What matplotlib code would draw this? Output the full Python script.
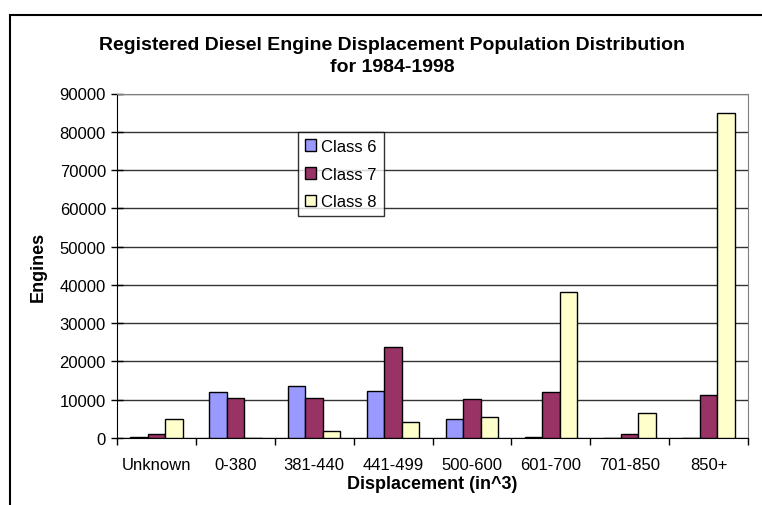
import numpy as np
import matplotlib
matplotlib.use("Agg")
import matplotlib.pyplot as plt
from matplotlib.patches import Rectangle

plt.rcParams['font.family'] = ['Liberation Sans', 'DejaVu Sans']

categories = ['Unknown', '0-380', '381-440', '441-499', '500-600', '601-700', '701-850', '850+']
class6 = [300, 12000, 13700, 12300, 5000, 300, 0, 0]
class7 = [1000, 10500, 10500, 23800, 10300, 12000, 1000, 11300]
class8 = [5000, 0, 1900, 4200, 5500, 38100, 6500, 85000]

series = [('Class 6', class6, '#9999FF'),
          ('Class 7', class7, '#993366'),
          ('Class 8', class8, '#FFFFCC')]

fig = plt.figure(figsize=(7.62, 5.06), dpi=100)
ax = fig.add_axes([117 / 762, 1 - 439 / 506, (748 - 117) / 762, (439 - 94.5) / 506])

x = np.arange(len(categories))
w = 0.222
for i, (name, vals, col) in enumerate(series):
    ax.bar(x + (i - 1) * w, vals, width=w, color=col, edgecolor='black', linewidth=1, label=name, zorder=3)

ax.set_xlim(-0.5, len(categories) - 0.5)
ax.set_ylim(0, 90000)
ax.set_yticks(np.arange(0, 90001, 10000))
ax.set_xticks(x)
ax.set_xticklabels(categories, fontsize=12)
ax.set_xticks(np.arange(-0.5, len(categories)), minor=True)
ax.tick_params(axis='x', which='major', length=0, pad=14)
ax.tick_params(axis='x', which='minor', length=5, width=1, direction='out')
ax.tick_params(axis='y', length=8, width=1, direction='inout', labelsize=12, pad=4)
ax.grid(axis='y', color='#333333', linewidth=1, zorder=0)

for s in ['top', 'right']:
    ax.spines[s].set_color('#808080')
for s in ['left', 'bottom']:
    ax.spines[s].set_color('black')

ax.set_ylabel('Engines', fontsize=13, fontweight='bold', labelpad=9)
ax.set_xlabel('Displacement (in^3)', fontsize=13, fontweight='bold', labelpad=2)

fig.text(392 / 762, 1 - 45 / 506, 'Registered Diesel Engine Displacement Population Distribution',
         ha='center', va='center', fontsize=14, fontweight='bold')
fig.text(392 / 762, 1 - 68 / 506, 'for 1984-1998',
         ha='center', va='center', fontsize=14, fontweight='bold')

leg = ax.legend(loc='upper left', bbox_to_anchor=((298 - 117) / 631, (439 - 133) / 344.5),
                fontsize=12, frameon=True, fancybox=False, edgecolor='black',
                handlelength=0.7, handleheight=0.7, handletextpad=0.3, borderpad=0.4,
                labelspacing=0.77, borderaxespad=0)
leg.get_frame().set_linewidth(1)

fig.patches.append(Rectangle((10 / 762, -0.1), 1.2, 1 - 16 / 506 + 0.1, transform=fig.transFigure,
                             fill=False, edgecolor='black', linewidth=1.5))

fig.savefig('out.png', dpi=100)
